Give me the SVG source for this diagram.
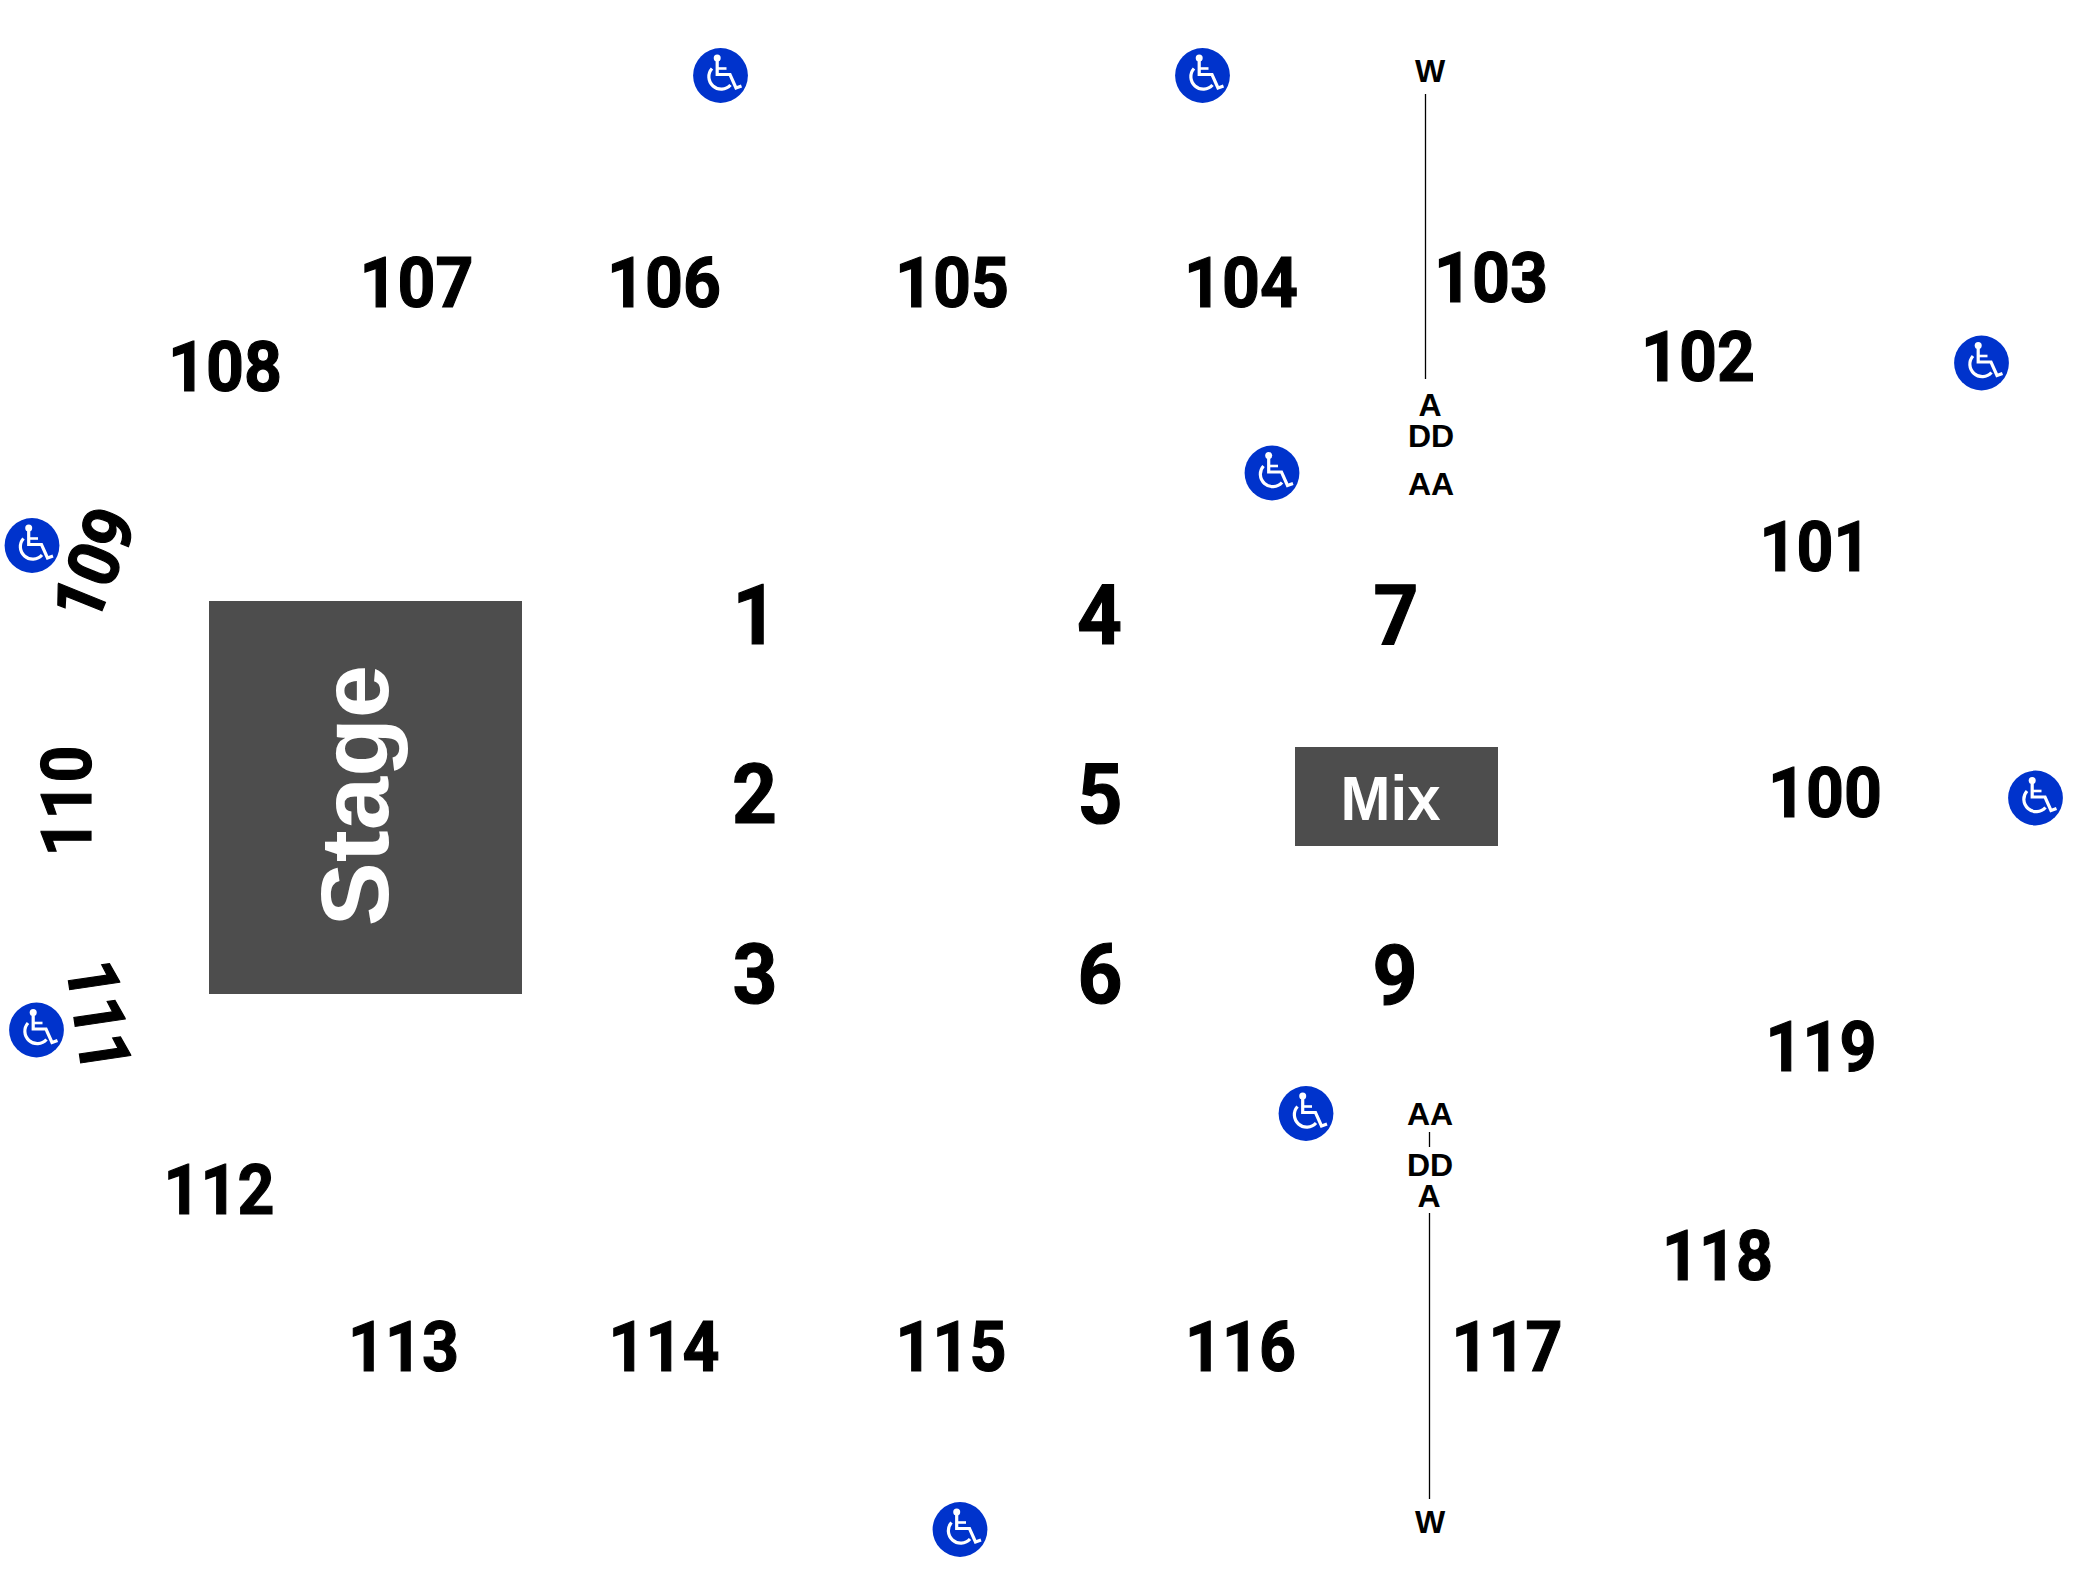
<svg xmlns="http://www.w3.org/2000/svg" width="2100" height="1584" viewBox="0 0 2100 1584">
<style>
text{font-family:"Liberation Sans",Arial,sans-serif;font-weight:700;text-anchor:middle;fill:#000}
.s{font-family:Roboto,"Liberation Sans",sans-serif;font-size:71px;stroke:#000;stroke-width:1.200px}.b{font-family:Roboto,"Liberation Sans",sans-serif;font-size:84px;stroke:#000;stroke-width:1.200px}.r{font-size:32px}
.w{fill:#fff}
.c{stroke:#000;stroke-width:1.300;fill:none}
</style>
<defs>
<g id="wc">
<circle r="27.4" fill="#0033cc"/>
<circle cx="-3.3" cy="-17.500" r="3.500" fill="#fff"/>
<path d="M-3.300-15V-1H9.500L15.500 12.500 21 10.500" fill="none" stroke="#fff" stroke-width="3.200"/>
<path d="M-3.300-7H6" fill="none" stroke="#fff" stroke-width="2.600"/>
<path d="M-8.500-7A12 12 0 1 0 10 9.500" fill="none" stroke="#fff" stroke-width="3.200"/>
</g>
</defs>
<rect width="2100" height="1584" fill="#fff"/>
<g id="connectors">
<line class="c" x1="1425.5" y1="94" x2="1425.5" y2="379"/>
<line class="c" x1="1429.5" y1="1132" x2="1429.5" y2="1147"/>
<line class="c" x1="1429.5" y1="1213" x2="1429.5" y2="1499"/>
</g>
<g id="stage"><rect x="209" y="601" width="313" height="393" fill="#4d4d4d"/><text class="w" style="font-size:96px" transform="translate(388 795.500) rotate(-90)">Stage</text></g>
<g id="mix"><rect x="1295" y="747" width="203" height="99" fill="#4d4d4d"/><text class="w" style="font-size:63px" x="1390.500" y="820" textLength="100" lengthAdjust="spacingAndGlyphs">Mix</text></g>
<g id="sections">
<text class="s" x="416.500" y="307" textLength="114" lengthAdjust="spacingAndGlyphs">107</text>
<text class="s" x="664" y="307" textLength="114" lengthAdjust="spacingAndGlyphs">106</text>
<text class="s" x="952" y="307" textLength="114" lengthAdjust="spacingAndGlyphs">105</text>
<text class="s" x="1241" y="307" textLength="114" lengthAdjust="spacingAndGlyphs">104</text>
<text class="s" x="1491" y="302" textLength="114" lengthAdjust="spacingAndGlyphs">103</text>
<text class="s" x="1698" y="381" textLength="114" lengthAdjust="spacingAndGlyphs">102</text>
<text class="s" x="225" y="390.500" textLength="114" lengthAdjust="spacingAndGlyphs">108</text>
<text class="s" x="1815" y="571" textLength="111" lengthAdjust="spacingAndGlyphs">101</text>
<text class="s" x="1825" y="817" textLength="114" lengthAdjust="spacingAndGlyphs">100</text>
<text class="s" x="1821" y="1071" textLength="111" lengthAdjust="spacingAndGlyphs">119</text>
<text class="s" x="1717.500" y="1279.500" textLength="111" lengthAdjust="spacingAndGlyphs">118</text>
<text class="s" x="1507" y="1371" textLength="111" lengthAdjust="spacingAndGlyphs">117</text>
<text class="s" x="1240.500" y="1371" textLength="111" lengthAdjust="spacingAndGlyphs">116</text>
<text class="s" x="951" y="1371" textLength="111" lengthAdjust="spacingAndGlyphs">115</text>
<text class="s" x="664" y="1371" textLength="111" lengthAdjust="spacingAndGlyphs">114</text>
<text class="s" x="403.500" y="1371" textLength="111" lengthAdjust="spacingAndGlyphs">113</text>
<text class="s" x="219" y="1214" textLength="111" lengthAdjust="spacingAndGlyphs">112</text>
<text class="s" transform="translate(94 564) rotate(-68)" y="25" textLength="114" lengthAdjust="spacingAndGlyphs">109</text>
<text class="s" transform="translate(66 801) rotate(-90)" y="25" textLength="111" lengthAdjust="spacingAndGlyphs">110</text>
<text class="s" transform="translate(99 1016) rotate(81.500)" y="25" textLength="111" lengthAdjust="spacingAndGlyphs">111</text>
</g>
<g id="pits">
<text class="b" x="755" y="644" textLength="45" lengthAdjust="spacingAndGlyphs">1</text>
<text class="b" x="1099.500" y="644" textLength="45" lengthAdjust="spacingAndGlyphs">4</text>
<text class="b" x="1396" y="644" textLength="45" lengthAdjust="spacingAndGlyphs">7</text>
<text class="b" x="754.500" y="823" textLength="45" lengthAdjust="spacingAndGlyphs">2</text>
<text class="b" x="1100" y="823" textLength="45" lengthAdjust="spacingAndGlyphs">5</text>
<text class="b" x="755" y="1003" textLength="45" lengthAdjust="spacingAndGlyphs">3</text>
<text class="b" x="1100" y="1003" textLength="45" lengthAdjust="spacingAndGlyphs">6</text>
<text class="b" x="1395" y="1003.500" textLength="45" lengthAdjust="spacingAndGlyphs">9</text>
</g>
<g id="rows">
<text class="r" x="1430" y="82">W</text>
<text class="r" x="1430" y="416">A</text>
<text class="r" x="1431" y="447">DD</text>
<text class="r" x="1431" y="495">AA</text>
<text class="r" x="1430" y="1125">AA</text>
<text class="r" x="1430" y="1176">DD</text>
<text class="r" x="1429" y="1207">A</text>
<text class="r" x="1430" y="1533">W</text>
</g>
<g id="accessible">
<use href="#wc" x="720.500" y="75.500"/>
<use href="#wc" x="1202.500" y="75.500"/>
<use href="#wc" x="1272" y="473"/>
<use href="#wc" x="1981.500" y="363"/>
<use href="#wc" x="2035.500" y="798"/>
<use href="#wc" x="1306" y="1113.500"/>
<use href="#wc" x="960" y="1529.500"/>
<use href="#wc" x="32" y="545.500"/>
<use href="#wc" x="36.500" y="1030"/>
</g>
</svg>
